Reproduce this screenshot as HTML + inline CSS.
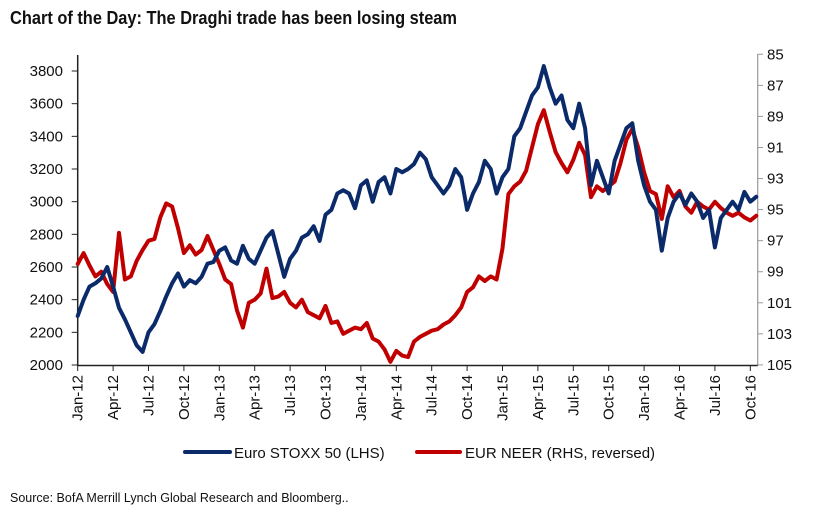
<!DOCTYPE html>
<html><head><meta charset="utf-8"><style>
html,body{margin:0;padding:0;background:#fff;}
svg{display:block;font-family:"Liberation Sans Narrow","Liberation Sans",sans-serif;}
</style></head><body>
<svg id="chart" width="827" height="517" viewBox="0 0 827 517" xmlns="http://www.w3.org/2000/svg">
<text x="10" y="24" font-size="18" font-weight="bold" fill="#111" textLength="447" lengthAdjust="spacingAndGlyphs">Chart of the Day: The Draghi trade has been losing steam</text>
<g id="axes"></g>
<g id="series"></g>
<g>
<line x1="185" y1="452" x2="230" y2="452" stroke="#0b2a6a" stroke-width="4" stroke-linecap="round"/>
<text x="234" y="458" font-size="15" fill="#111">Euro STOXX 50 (LHS)</text>
<line x1="417" y1="452" x2="460" y2="452" stroke="#c00000" stroke-width="4" stroke-linecap="round"/>
<text x="465" y="458" font-size="15" fill="#111">EUR NEER (RHS, reversed)</text>
</g>
<text x="10" y="502" font-size="12.5" fill="#111">Source: BofA Merrill Lynch Global Research and Bloomberg..</text>
</svg>
<script>
const xLabels=["Jan-12","Apr-12","Jul-12","Oct-12","Jan-13","Apr-13","Jul-13","Oct-13","Jan-14","Apr-14","Jul-14","Oct-14","Jan-15","Apr-15","Jul-15","Oct-15","Jan-16","Apr-16","Jul-16","Oct-16"];
const leftTicks=[2000,2200,2400,2600,2800,3000,3200,3400,3600,3800];
const rightTicks=[85,87,89,91,93,95,97,99,101,103,105];
const stoxx=[2300,2400,2480,2500,2530,2600,2480,2350,2280,2200,2120,2080,2200,2250,2330,2420,2500,2560,2480,2520,2500,2540,2620,2630,2700,2720,2640,2620,2730,2650,2620,2700,2780,2820,2680,2540,2650,2700,2780,2800,2850,2760,2920,2950,3050,3070,3050,2960,3100,3130,3000,3120,3150,3050,3200,3180,3200,3230,3300,3260,3150,3100,3050,3100,3200,3150,2950,3050,3120,3250,3200,3050,3150,3200,3400,3450,3550,3650,3700,3830,3700,3600,3650,3500,3450,3600,3450,3100,3250,3150,3050,3250,3350,3450,3480,3250,3100,3000,2950,2700,2900,3000,3050,2980,3050,3000,2900,2950,2720,2900,2950,3000,2950,3060,3000,3030];
const neer=[98.5,97.8,98.6,99.3,99.0,99.8,100.3,96.5,99.5,99.3,98.3,97.6,97.0,96.9,95.5,94.6,94.8,96.2,97.8,97.3,97.9,97.6,96.7,97.6,98.5,99.5,99.8,101.5,102.6,101.0,100.8,100.4,98.8,100.7,100.6,100.3,101.0,101.3,100.8,101.6,101.8,102.0,101.2,102.3,102.2,103.0,102.8,102.6,102.7,102.3,103.3,103.5,104.0,104.8,104.1,104.4,104.5,103.5,103.2,103.0,102.8,102.7,102.4,102.2,101.8,101.3,100.3,100.0,99.3,99.6,99.3,99.5,97.5,94.0,93.5,93.2,92.5,91.0,89.5,88.6,90.0,91.3,92.0,92.6,91.8,90.7,91.5,94.2,93.5,93.8,93.5,93.2,92.0,90.5,89.8,91.0,92.6,93.8,94.0,95.6,93.5,94.2,93.8,94.8,95.2,94.5,94.8,95.0,94.5,94.9,95.2,95.4,95.2,95.5,95.7,95.4];
const stepMonths=0.5;

const X0=77.7, PXM=11.8;
const xScale=m=>X0+m*PXM;
const yL=v=>365-(v-2000)*0.16333;
const yR=v=>54.3+(v-85)*15.53;
const NS="http://www.w3.org/2000/svg";
function mk(tag,attrs,parent){const e=document.createElementNS(NS,tag);for(const k in attrs)e.setAttribute(k,attrs[k]);parent.appendChild(e);return e;}
const axes=document.getElementById('axes'), series=document.getElementById('series');

let e=mk('line',{x1:X0,y1:55,x2:X0,y2:366,stroke:'#222','stroke-width':1.5},axes);


e=mk('line',{x1:757.7,y1:54,x2:757.7,y2:366,stroke:'#999','stroke-width':1.2},axes);


e=mk('line',{x1:X0,y1:365.5,x2:757.7,y2:365.5,stroke:'#222','stroke-width':1.5},axes);



leftTicks.forEach(v=>{
  const y=yL(v);
  mk('line',{x1:X0-6,y1:y,x2:X0,y2:y,stroke:'#222','stroke-width':1},axes);
  const t=mk('text',{x:63,y:y+5,'font-size':15,'text-anchor':'end',fill:'#111'},axes);
  t.textContent=v;
  
  
});
rightTicks.forEach(v=>{
  const y=yR(v);
  mk('line',{x1:757.7,y1:y,x2:763,y2:y,stroke:'#999','stroke-width':1},axes);
  const t=mk('text',{x:767,y:y+5,'font-size':15,fill:'#111'},axes);
  t.textContent=v;
  
  
});
xLabels.forEach((lab,i)=>{
  const x=xScale(i*3);
  mk('line',{x1:x,y1:365.5,x2:x,y2:371,stroke:'#222','stroke-width':1},axes);
  const t=mk('text',{x:0,y:0,'font-size':15,'text-anchor':'end',fill:'#111',transform:`translate(${x+5},375) rotate(-90)`},axes);
  t.textContent=lab;
  
  
});

function path(vals,yf,col,name){
  const d=vals.map((v,i)=>(i?'L':'M')+xScale(i*stepMonths).toFixed(1)+','+yf(v).toFixed(1)).join('');
  const p=mk('path',{d:d,fill:'none',stroke:col,'stroke-width':4,'stroke-linejoin':'round','stroke-linecap':'round'},series);
  
  
}
path(neer,yR,'#c00000','eur-neer-line');
path(stoxx,yL,'#0b2a6a','euro-stoxx-line');
</script>
</body></html>
